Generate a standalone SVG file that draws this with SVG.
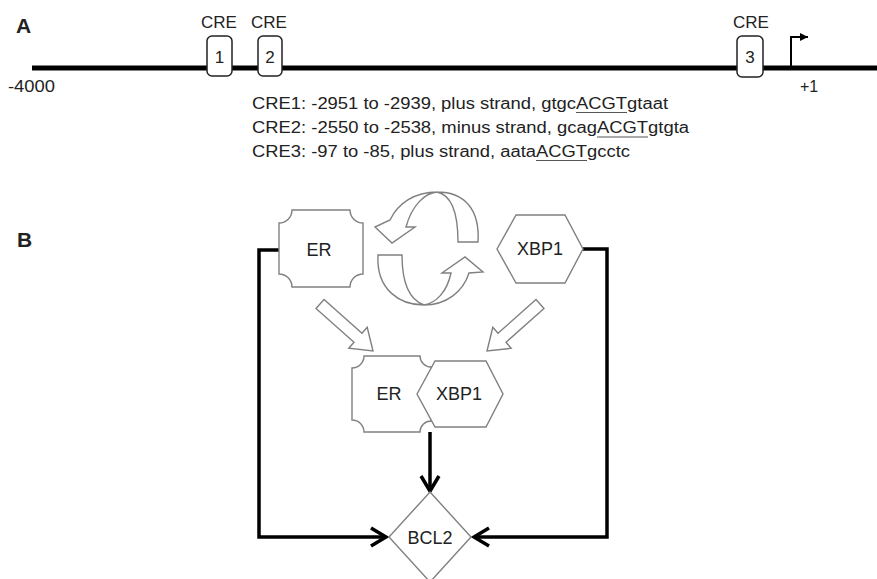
<svg xmlns="http://www.w3.org/2000/svg" width="877" height="579" viewBox="0 0 877 579">
<style>
text{font-family:"Liberation Sans",Arial,sans-serif;fill:#222}
.lbl{font-size:16px}
.cre{font-size:17px;text-anchor:middle}
.big{font-size:18px;text-anchor:middle}
.mid{text-anchor:middle}
.panel{font-size:21px;font-weight:bold}
.box{fill:#fff;stroke:#222;stroke-width:1.5}
.shape{fill:#fff;stroke:#808080;stroke-width:1.4}
.conn{fill:none;stroke:#000;stroke-width:3.5}
.ul{stroke:#555;stroke-width:1}
</style>
<defs>
<marker id="open" viewBox="-20 -15 30 30" markerWidth="30" markerHeight="30" refX="0" refY="0" orient="auto" markerUnits="userSpaceOnUse">
<path d="M-15,-9 L0,0 L-15,9" fill="none" stroke="#000" stroke-width="3.5"/>
</marker>
<marker id="tri" viewBox="-10 -6 12 12" markerWidth="12" markerHeight="12" refX="0" refY="0" orient="auto" markerUnits="userSpaceOnUse">
<path d="M-8,-4 L0,0 L-8,4 Z" fill="#000"/>
</marker>
</defs>
<rect width="877" height="579" fill="#fff"/>

<!-- Panel A -->
<g id="panelA">
<text class="panel" x="16" y="33">A</text>
<line x1="32" y1="68" x2="877" y2="68" stroke="#000" stroke-width="5"/>
<text class="lbl" x="8" y="92" textLength="47" lengthAdjust="spacingAndGlyphs">-4000</text>
<text class="lbl" x="800" y="92" font-size="17">+1</text>
<g id="cre1">
<text class="cre" x="219" y="28">CRE</text>
<rect class="box" x="207" y="36" width="25" height="40" rx="5"/>
<text class="cre" x="219.5" y="63">1</text>
</g>
<g id="cre2">
<text class="cre" x="269" y="28">CRE</text>
<rect class="box" x="258" y="36" width="24" height="40" rx="5"/>
<text class="cre" x="270" y="63">2</text>
</g>
<g id="cre3">
<text class="cre" x="751" y="28">CRE</text>
<rect class="box" x="737" y="36" width="26" height="41" rx="5"/>
<text class="cre" x="750" y="63">3</text>
</g>
<g id="tss">
<path d="M791,68 V37 H808" fill="none" stroke="#000" stroke-width="2" marker-end="url(#tri)"/>
</g>
<text class="lbl" x="252" y="109" textLength="416" lengthAdjust="spacingAndGlyphs">CRE1: -2951 to -2939, plus strand, gtgcACGTgtaat</text>
<text class="lbl" x="252" y="133" textLength="437" lengthAdjust="spacingAndGlyphs">CRE2: -2550 to -2538, minus strand, gcagACGTgtgta</text>
<text class="lbl" x="252" y="157" textLength="378" lengthAdjust="spacingAndGlyphs">CRE3: -97 to -85, plus strand, aataACGTgcctc</text>
<line class="ul" x1="576" y1="112.5" x2="627" y2="112.5"/>
<line class="ul" x1="597" y1="137" x2="648" y2="137"/>
<line class="ul" x1="536" y1="160.5" x2="587" y2="160.5"/>
</g>

<!-- Panel B -->
<text class="panel" x="17" y="247">B</text>

<g id="connectors">
<path class="conn" d="M279,250 H259 V537 H386" marker-end="url(#open)"/>
<path class="conn" d="M583,249 H607 V537 H474" marker-end="url(#open)"/>
<path class="conn" d="M430,432 V491" marker-end="url(#open)"/>
</g>

<g id="cycle">
<path class="shape" d="M478,242 C480,210 465,192 437,192 C415,192 398,203 390,220 L375,227 L392,243 L415,227 L406,227 C412,205 425,193 437,192 C452,195 458,215 458,242 Z"/>
<path class="shape" d="M378,255 C376,290 400,305 424,305 C446,305 463,292 469,273 L483,272 L465,257 L442,273 L451,273 C447,292 436,303 424,305 C410,300 402,285 402,255 Z"/>
</g>

<g id="arrowER">
<polygon class="shape" points="316,308.5 324,299.5 362,333.3 367.2,327.3 373,351 348.8,348.3 354,342.3"/>
</g>
<g id="arrowXBP1">
<polygon class="shape" points="544,308.5 536,299.5 498,333.3 492.8,327.3 487,351 511.2,348.3 506,342.3"/>
</g>

<g id="ER">
<path class="shape" d="M292,210 L350,210 A13,13 0 0 0 363,223 L363,274 A13,13 0 0 0 350,287 L292,287 A13,13 0 0 0 279,274 L279,223 A13,13 0 0 0 292,210 Z"/>
<text class="big" x="319" y="256">ER</text>
</g>

<g id="XBP1">
<polygon class="shape" points="497,249 516,215 565,215 583,249 565,283 516,283"/>
<text class="big" x="540" y="255">XBP1</text>
</g>

<g id="complex">
<path class="shape" d="M364,356 L420,356 A11,11 0 0 0 431,367 L431,421 A11,11 0 0 0 420,432 L364,432 A12,12 0 0 0 352,420 L352,368 A12,12 0 0 0 364,356 Z"/>
<text class="big" x="389" y="400">ER</text>
<polygon class="shape" points="417,394 435,361 486,361 503,394 486,427 435,427"/>
<text class="big" x="459" y="400">XBP1</text>
</g>

<g id="BCL2">
<polygon class="shape" points="430,492 471,537 430,582 389,537"/>
<text class="big" x="430" y="544">BCL2</text>
</g>
</svg>
